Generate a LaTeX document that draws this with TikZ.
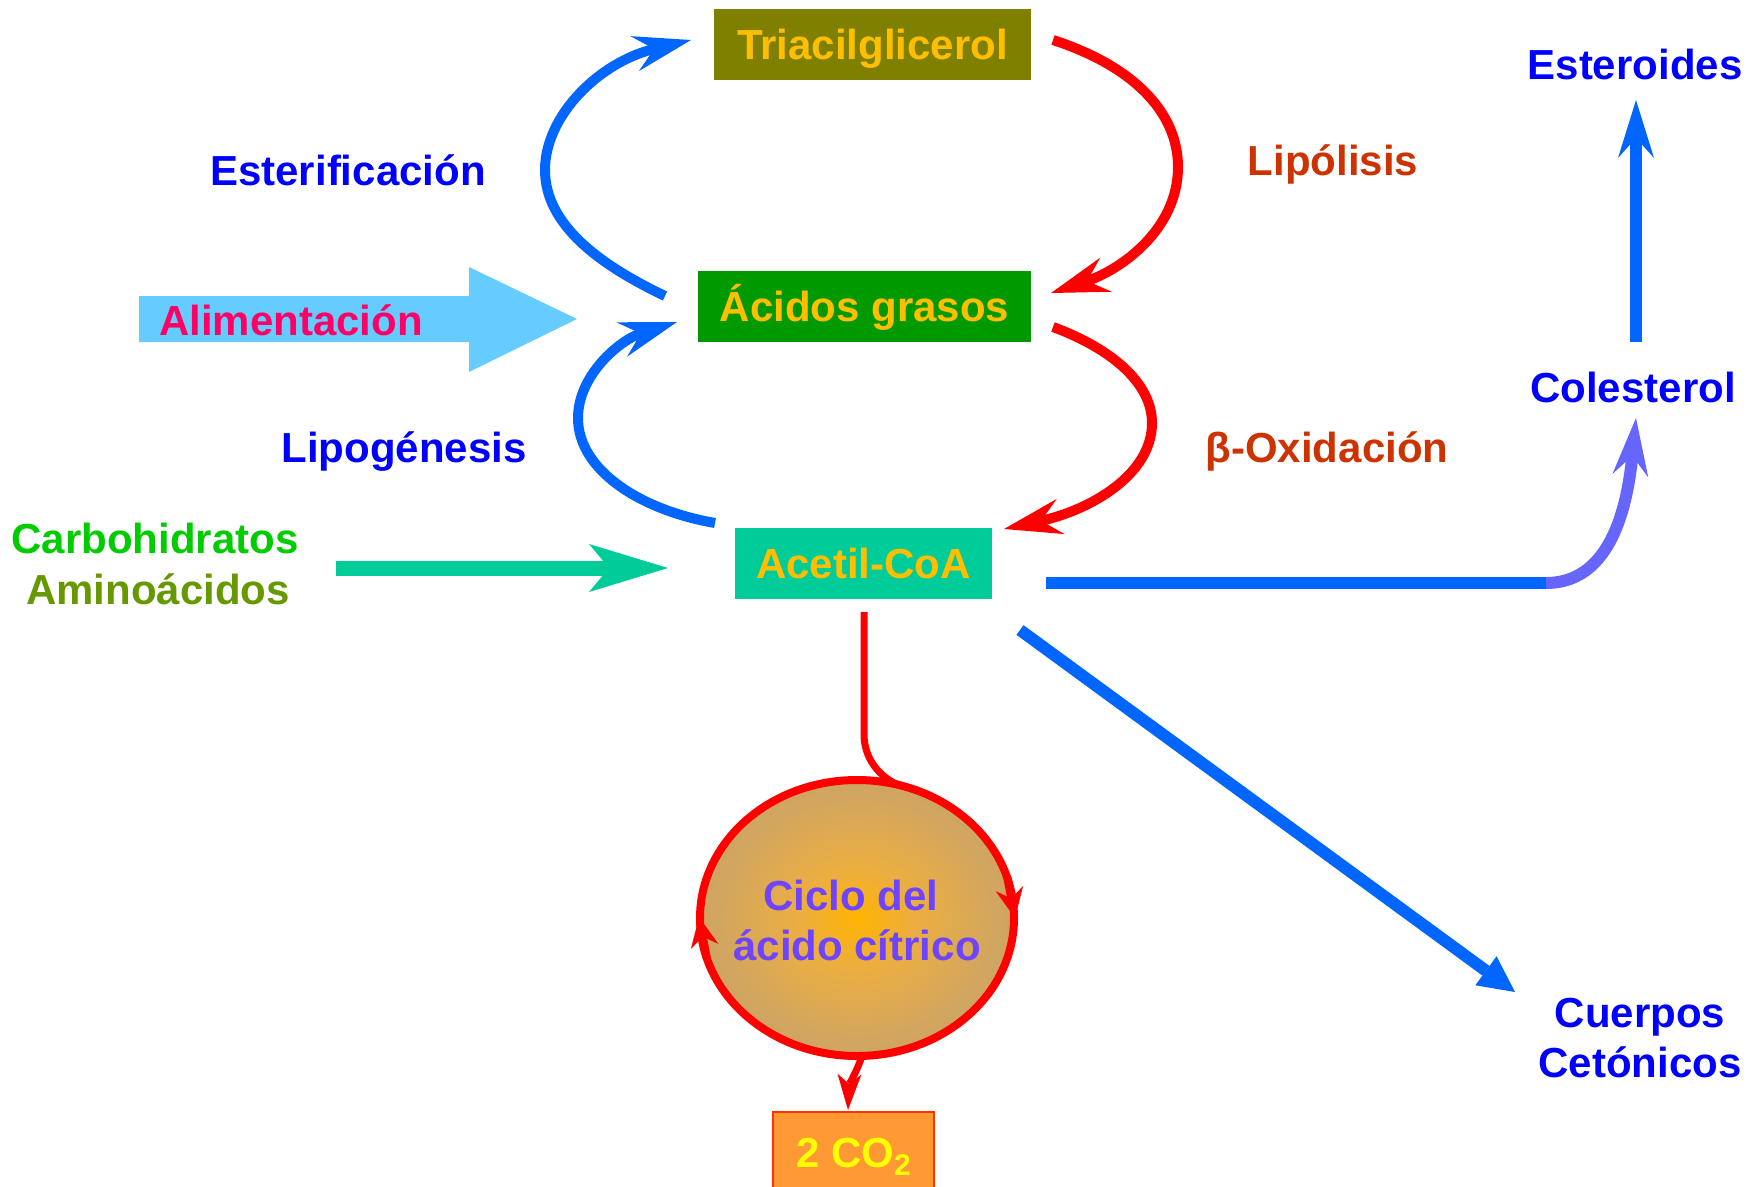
\documentclass[tikz,border=0pt]{standalone}
\usepackage{fontspec}
\setmainfont{Liberation Sans}
\usetikzlibrary{arrows.meta,calc,shapes.geometric}

\definecolor{arrowblue}{HTML}{0066FF}
\definecolor{labelblue}{HTML}{0000FF}
\definecolor{lipored}{HTML}{CC3300}
\definecolor{carbgreen}{HTML}{00CC00}
\definecolor{aminogreen}{HTML}{669900}
\definecolor{alimpink}{HTML}{FF0066}
\definecolor{alimarrow}{HTML}{66CCFF}
\definecolor{boxtext}{HTML}{FFBF00}
\definecolor{tagfill}{HTML}{808000}
\definecolor{agfill}{HTML}{009900}
\definecolor{acoafill}{HTML}{00CC99}
\definecolor{cycletext}{HTML}{6E44FF}
\definecolor{colpurple}{HTML}{6666FF}
\definecolor{cotwofill}{HTML}{FF9933}
\definecolor{cotwoline}{HTML}{FF3300}
\definecolor{cotwotext}{HTML}{FFFF00}
\definecolor{cycin}{HTML}{FFB400}
\definecolor{cycmida}{HTML}{ECAE40}
\definecolor{cycmidb}{HTML}{D2A660}
\definecolor{cycout}{HTML}{C09F6A}

\pgfdeclareradialshading{cyclefill}{\pgfpoint{0bp}{0bp}}%
  {color(0bp)=(cycin); color(9bp)=(cycmida); color(22bp)=(cycmidb); color(40bp)=(cycout); color(50bp)=(cycout)}

\tikzset{
  arctip/.tip={Stealth[length=58pt,width=36pt,inset=20pt,line width=0pt]},
  carbtip/.tip={Stealth[length=79pt,width=48pt,inset=20pt,line width=0pt]},
  smalltip/.tip={Stealth[length=30pt,width=28pt,inset=10pt,line width=0pt]},
  outtip/.tip={Stealth[length=36pt,width=24pt,inset=10pt,line width=0pt]},
  tritip/.tip={Triangle[length=36pt,width=36pt,line width=0pt]},
  txt/.style={font=\bfseries\fontsize{42}{50}\selectfont, inner sep=0pt, anchor=base},
  box/.style={font=\bfseries\fontsize{42}{50}\selectfont, text=boxtext,
    inner sep=0pt, outer sep=0pt, minimum height=71pt,
    text height=30pt, text depth=0pt},
  arcline/.style={line width=10pt},
  thickline/.style={line width=12pt}
}

\begin{document}
\begin{tikzpicture}[x=1pt,y=-1pt]
\useasboundingbox (0,0) rectangle (1761,1186);
\fill[white] (0,0) rectangle (1761,1186);

% broad arrow for dietary intake
\fill[alimarrow] (139,296) -- (469,296) -- (469,267) -- (577,319)
  -- (469,372) -- (469,342) -- (139,342) -- cycle;

% metabolite boxes
\node[box, fill=tagfill, minimum width=317pt] (tag) at (872.5,44.5) {Triacilglicerol};
\node[box, fill=agfill, minimum width=333pt] (ag) at (864.5,306.5) {Ácidos grasos};
\node[box, fill=acoafill, minimum width=257pt] (acoa) at (863.5,563.5) {Acetil-CoA};

% citric acid cycle
\node[ellipse, draw=red, line width=8pt, minimum width=314pt, minimum height=276pt,
  inner sep=0pt, outer sep=0pt, shading=cyclefill] (ciclo) at (857,918) {};
\node[txt, text=cycletext] (cicloa) at (851,910) {Ciclo del};
\node[txt, text=cycletext] (ciclob) at (857,960) {ácido cítrico};

% CO2 box
\node[draw=cotwoline, line width=2pt, fill=cotwofill, inner sep=0pt, outer sep=0pt,
  minimum width=161pt, minimum height=88pt, text height=30pt, text depth=8pt,
  font=\bfseries\fontsize{42}{50}\selectfont, text=cotwotext] (cotwo) at (853.5,1156)
  {2 CO\raisebox{-8pt}{\fontsize{30}{30}\selectfont 2}};

% labels
\node[txt, text=labelblue] (lesterif) at (348,185) {Esterificación};
\node[txt, text=lipored] (llipol) at (1333,175) {Lipólisis};
\node[txt, text=labelblue] (llipog) at (404,462) {Lipogénesis};
\node[txt, text=lipored] (lbeta) at (1327,462) {β-Oxidación};
\node[txt, text=carbgreen] (lcarb) at (155,553) {Carbohidratos};
\node[txt, text=aminogreen] (lamino) at (158,604) {Aminoácidos};
\node[txt, text=alimpink] (lalim) at (291,335) {Alimentación};
\node[txt, text=labelblue] (est) at (1635,79) {Esteroides};
\node[txt, text=labelblue] (col) at (1633,402) {Colesterol};
\node[txt, text=labelblue] (cuerpos) at (1640,1027) {Cuerpos};
\node[txt, text=labelblue] (cetonicos) at (1640,1077) {Cetónicos};

\coordinate (carbsrc) at (336,568);

% esterification: fatty acids -> triacylglycerol
\draw[arrowblue, arcline, -arctip] ($(ag.west)+(-33,-10.5)$)
  .. controls (600,265) and (545,225) .. (545,170)
  .. controls (545,115) and (600,62) .. ($(tag.west)+(-23,-4.5)$);
% lipolysis: triacylglycerol -> fatty acids
\draw[red, arcline, -arctip] ($(tag.east)+(22,-4.5)$)
  .. controls (1130,65) and (1178,110) .. (1178,167)
  .. controls (1178,230) and (1120,270) .. ($(ag.east)+(20,-13.5)$);
% lipogenesis: acetyl-CoA -> fatty acids
\draw[arrowblue, arcline, -arctip] ($(acoa.north west)+(-20,-5)$)
  .. controls (640,510) and (578,470) .. (578,418)
  .. controls (578,375) and (620,340) .. ($(ag.west)+(-21,15.5)$);
% beta oxidation: fatty acids -> acetyl-CoA
\draw[red, arcline, -arctip] ($(ag.east)+(22,20.5)$)
  .. controls (1115,350) and (1152,385) .. (1152,423)
  .. controls (1152,475) and (1090,510) .. ($(acoa.north east)+(12,1)$);

% carbohydrates / amino acids -> acetyl-CoA
\draw[acoafill, line width=15pt, -carbtip] (carbsrc) -- ($(acoa.west)+(-67,4.5)$);

% acetyl-CoA -> citric acid cycle
\draw[red, line width=7pt] ($(acoa.south)+(0.5,13)$) -- ++(0,122)
  .. controls +(0,25) and +(-18,-8) .. (ciclo.73);
% direction marks on the cycle
\draw[red, line width=8pt, -smalltip] ($(ciclo.center)+(150,-42)$) -- ($(ciclo.center)+(158,0)$);
\draw[red, line width=8pt, -smalltip] ($(ciclo.center)+(-150,41)$) -- ($(ciclo.center)+(-158,-1)$);
% cycle -> CO2
\draw[red, line width=7pt, -outtip] ($(ciclo.south)+(5,0)$)
  .. controls +(-5,15) and +(1,-25) .. ($(cotwo.north)+(-5.5,-2)$);

% acetyl-CoA -> cholesterol -> steroids
\draw[arrowblue, thickline] ($(acoa.east)+(54,19.5)$) -- ++(500,0) coordinate (bend);
\draw[colpurple, thickline, -arctip] (bend)
  .. controls +(54,0) and (1625,530) .. ($(col.base)+(3,16)$);
\draw[arrowblue, thickline, -arctip] ($(col.base)+(3,-60)$) -- ($(est.base)+(1,21)$);

% acetyl-CoA -> ketone bodies
\draw[arrowblue, thickline, -tritip] ($(acoa.south east)+(28,31)$) -- ($(cuerpos.base)+(-125,-35)$);
\end{tikzpicture}
\end{document}
